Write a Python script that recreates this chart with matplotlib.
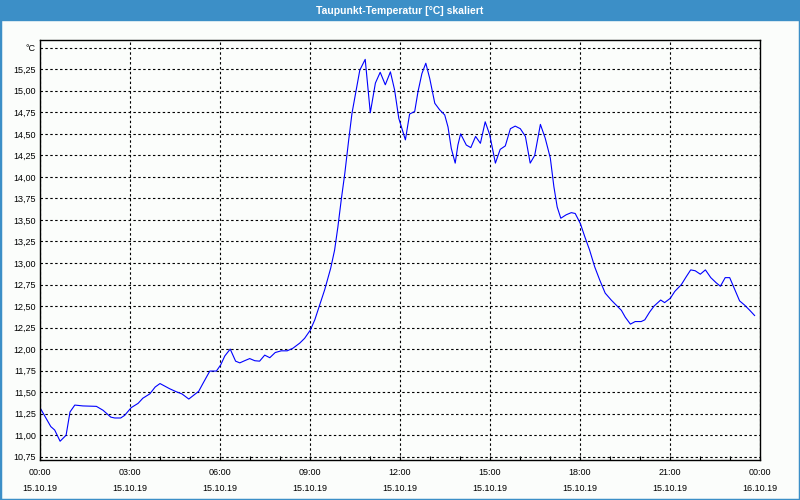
import matplotlib
matplotlib.use('Agg')
import matplotlib.pyplot as plt
from matplotlib.patches import Rectangle
from matplotlib.ticker import FixedLocator

# Stunden seit 00:00 am 15.10.19
hours = [0.00, 0.36, 0.49, 0.67, 0.87, 1.00, 1.16, 1.43, 1.88, 2.10, 2.36, 2.49,
         2.69, 2.82, 3.04, 3.27, 3.43, 3.66, 3.84, 4.00, 4.16, 4.32, 4.54, 4.73,
         4.96, 5.29, 5.43, 5.66, 5.88, 6.02, 6.16, 6.34, 6.52, 6.66, 6.82, 6.99,
         7.16, 7.32, 7.49, 7.66, 7.84, 8.04, 8.24, 8.43, 8.66, 8.82, 9.01, 9.16,
         9.32, 9.49, 9.69, 9.82, 9.93, 10.04, 10.16, 10.29, 10.40, 10.54, 10.66,
         10.84, 11.01, 11.18, 11.34, 11.51, 11.68, 11.82, 11.96, 12.18, 12.32,
         12.49, 12.60, 12.73, 12.86, 12.99, 13.16, 13.32, 13.49, 13.60, 13.71,
         13.84, 13.93, 14.02, 14.21, 14.36, 14.52, 14.68, 14.84, 14.99, 15.18,
         15.34, 15.51, 15.68, 15.84, 16.01, 16.18, 16.34, 16.49, 16.68, 16.84,
         17.01, 17.13, 17.24, 17.36, 17.54, 17.71, 17.84, 18.01, 18.16, 18.32,
         18.49, 18.66, 18.84, 19.04, 19.27, 19.38, 19.51, 19.68, 19.84, 20.04,
         20.16, 20.32, 20.47, 20.69, 20.82, 21.01, 21.16, 21.38, 21.54, 21.69,
         21.84, 22.01, 22.18, 22.36, 22.54, 22.68, 22.84, 22.99, 23.16, 23.32,
         23.49, 23.66, 23.82]
temps = [11.32, 11.10, 11.06, 10.93, 11.00, 11.27, 11.35, 11.34, 11.335, 11.29, 11.21, 11.20,
         11.20, 11.23, 11.32, 11.37, 11.43, 11.48, 11.56, 11.60, 11.57, 11.54, 11.505, 11.48,
         11.42, 11.51, 11.60, 11.745, 11.745, 11.815, 11.92, 12.00, 11.86, 11.84, 11.865, 11.89,
         11.865, 11.86, 11.93, 11.90, 11.96, 11.98, 11.98, 12.01, 12.07, 12.125, 12.22, 12.34,
         12.51, 12.69, 12.94, 13.15, 13.42, 13.73, 14.04, 14.43, 14.74, 15.01, 15.24,
         15.365, 14.745, 15.09, 15.215, 15.07, 15.22, 15.01, 14.68, 14.43, 14.73,
         14.76, 14.99, 15.20, 15.32, 15.145, 14.855, 14.78, 14.72, 14.58, 14.33,
         14.16, 14.37, 14.50, 14.37, 14.34, 14.47, 14.39, 14.64, 14.49, 14.16,
         14.32, 14.36, 14.56, 14.59, 14.56, 14.47, 14.16, 14.25, 14.61, 14.45,
         14.22, 13.885, 13.65, 13.52, 13.56, 13.585, 13.575, 13.46, 13.305, 13.15,
         12.955, 12.80, 12.65, 12.57, 12.49, 12.45, 12.37, 12.29, 12.32, 12.32,
         12.34, 12.43, 12.50, 12.57, 12.54, 12.59, 12.67, 12.75, 12.84, 12.92,
         12.91, 12.87, 12.92, 12.83, 12.77, 12.73, 12.83, 12.83, 12.69, 12.56,
         12.51, 12.45, 12.39]

x_ticks = [0, 3, 6, 9, 12, 15, 18, 21, 24]
x_labels = ['00:00\n15.10.19', '03:00\n15.10.19', '06:00\n15.10.19', '09:00\n15.10.19',
            '12:00\n15.10.19', '15:00\n15.10.19', '18:00\n15.10.19', '21:00\n15.10.19',
            '00:00\n16.10.19']
y_ticks = [10.75 + 0.25 * i for i in range(20)]
y_labels = [('%.2f' % v).replace('.', ',') for v in y_ticks[:-1]] + ['°C']

title = 'Taupunkt-Temperatur [°C] skaliert'
blue = '#3c8fc7'
bg = '#fbfdfb'

plt.rcParams['font.family'] = ['Liberation Sans', 'DejaVu Sans']

fig = plt.figure(figsize=(8, 5), dpi=100, facecolor=bg)
ax = fig.add_axes([0.05, 0.08, 0.90, 0.84], facecolor=bg)

ax.plot(hours, temps, color='#0000ff', linewidth=0.8)

ax.set_xlim(0, 24)
ax.set_ylim(10.712, 15.59)
ax.set_xticks(x_ticks)
ax.set_xticklabels(x_labels, fontsize=6.5, linespacing=2.0)
ax.xaxis.set_minor_locator(FixedLocator([h for h in range(25) if h % 3]))
ax.set_yticks(y_ticks)
ax.set_yticklabels(y_labels, fontsize=6.5)

ax.tick_params(axis='x', which='both', direction='in', length=3, width=0.8, pad=6)
ax.tick_params(axis='y', length=0, pad=3)
ax.grid(True, which='major', color='black', linestyle=(0, (2.2, 2.2)), linewidth=0.8)

for s in ax.spines.values():
    s.set_color('black')
    s.set_linewidth(1.0)

# Titelleiste und Rahmen
fig.patches.append(Rectangle((0, 0.96), 1, 0.04, transform=fig.transFigure,
                             color=blue, zorder=0))
fig.patches.append(Rectangle((0, 0), 1, 1, transform=fig.transFigure,
                             fill=False, edgecolor=blue, linewidth=2.5, zorder=0))
fig.text(0.5, 0.979, title, ha='center', va='center', color='white',
         fontsize=7.5, fontweight='bold')

fig.savefig('out.png', dpi=100, facecolor=bg)
